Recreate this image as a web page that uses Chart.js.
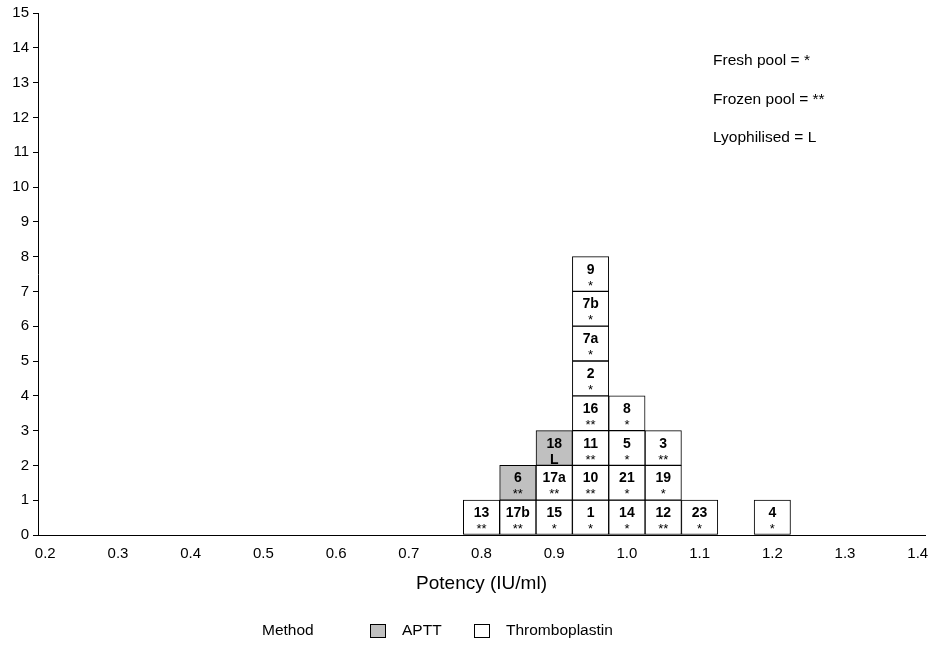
<!DOCTYPE html>
<html>
<head>
<meta charset="utf-8">
<script src="https://cdn.jsdelivr.net/npm/chart.js@4"></script>
<style>
  html, body { margin: 0; padding: 0; background: #fff; }
  #wrap { width: 933px; height: 645px; }
</style>
</head>
<body>
<div id="wrap"><canvas id="potencyChart" width="933" height="645"></canvas></div>
<script>
// one entry per lab result, stacked in order within each potency bin
const potency = [0.80, 0.85, 0.85, 0.90, 0.90, 0.90,
  0.95, 0.95, 0.95, 0.95, 0.95, 0.95, 0.95, 0.95,
  1.00, 1.00, 1.00, 1.00, 1.05, 1.05, 1.05, 1.10, 1.20];
const labIds = ['13', '17b', '6', '15', '17a', '18',
  '1', '10', '11', '16', '2', '7a', '7b', '9',
  '14', '21', '5', '8', '12', '19', '3', '23', '4'];
const pools = ['**', '**', '**', '*', '**', 'L',
  '*', '**', '**', '**', '*', '*', '*', '*',
  '*', '*', '*', '*', '**', '*', '**', '*', '*'];
const methods = ['Thromboplastin', 'Thromboplastin', 'APTT', 'Thromboplastin', 'Thromboplastin', 'APTT',
  'Thromboplastin', 'Thromboplastin', 'Thromboplastin', 'Thromboplastin', 'Thromboplastin', 'Thromboplastin', 'Thromboplastin', 'Thromboplastin',
  'Thromboplastin', 'Thromboplastin', 'Thromboplastin', 'Thromboplastin', 'Thromboplastin', 'Thromboplastin', 'Thromboplastin', 'Thromboplastin', 'Thromboplastin'];
const methodNames = ['APTT', 'Thromboplastin'];
const methodColors = ['#c0c0c0', '#ffffff'];
const xTicks = [0.2, 0.3, 0.4, 0.5, 0.6, 0.7, 0.8, 0.9, 1.0, 1.1, 1.2, 1.3, 1.4];
const poolKey = ['Fresh pool = *', 'Frozen pool = **', 'Lyophilised = L'];

const FONT = "'Liberation Sans', Arial, sans-serif";

// stack boxes: count how many already sit in each bin
const counts = {};
const points = methodNames.map(() => []);
for (let i = 0; i < potency.length; i++) {
  const key = potency[i].toFixed(2);
  const lvl = counts[key] || 0;
  counts[key] = lvl + 1;
  points[methodNames.indexOf(methods[i])].push({ x: potency[i], y: [lvl, lvl + 1], id: labIds[i], pool: pools[i] });
}

const boxLabels = {
  id: 'boxLabels',
  afterDatasetsDraw(chart) {
    const ctx = chart.ctx;
    ctx.save();
    ctx.fillStyle = '#000';
    ctx.textAlign = 'center';
    ctx.textBaseline = 'alphabetic';
    chart.data.datasets.forEach((ds, di) => {
      chart.getDatasetMeta(di).data.forEach((bar, i) => {
        const p = ds.data[i];
        const top = Math.min(bar.y, bar.base);
        ctx.font = 'bold 14px ' + FONT;
        ctx.fillText(p.id, bar.x, top + 17);
        if (p.pool === 'L') {
          ctx.fillText('L', bar.x, top + 33);
        } else {
          ctx.font = '13px ' + FONT;
          ctx.fillText(p.pool, bar.x, top + 33);
        }
      });
    });

    // pool key, top right
    ctx.textAlign = 'left';
    ctx.font = '15.5px ' + FONT;
    poolKey.forEach((t, k) => ctx.fillText(t, 713, 65 + k * 38.5));

    // method legend along the bottom
    const y = 631;
    ctx.textBaseline = 'middle';
    ctx.fillText('Method', 262, y);
    const boxX = [370, 474];
    methodNames.forEach((name, k) => {
      ctx.fillStyle = methodColors[k];
      ctx.fillRect(boxX[k] + 0.5, y - 6.5, 15, 13);
      ctx.strokeStyle = '#000';
      ctx.lineWidth = 1;
      ctx.strokeRect(boxX[k] + 0.5, y - 6.5, 15, 13);
      ctx.fillStyle = '#000';
      ctx.fillText(name, boxX[k] + 32, y);
    });
    ctx.restore();
  }
};

new Chart(document.getElementById('potencyChart'), {
  type: 'bar',
  data: {
    datasets: methodNames.map((name, k) => ({
      label: name,
      data: points[k],
      backgroundColor: methodColors[k],
      borderColor: '#000',
      borderWidth: 1,
      borderSkipped: false,
      grouped: false,
      barPercentage: 1,
      categoryPercentage: 1
    }))
  },
  options: {
    responsive: false,
    animation: false,
    events: [],
    layout: { padding: { top: 13, right: 8, left: 0, bottom: 0 } },
    plugins: { legend: { display: false }, tooltip: { enabled: false } },
    scales: {
      x: {
        type: 'linear',
        offset: false,
        min: 0.19,
        max: 1.41,
        afterBuildTicks(scale) { scale.ticks = xTicks.map(v => ({ value: v })); },
        afterFit(scale) { scale.height = 110; scale.paddingLeft = 0; scale.paddingRight = 0; },
        grid: { display: false, drawTicks: false },
        border: { color: '#000', width: 1 },
        ticks: {
          color: '#000',
          font: { family: FONT, size: 15 },
          padding: 10,
          maxRotation: 0,
          autoSkip: false,
          callback: v => Number(v).toFixed(1)
        },
        title: {
          display: true,
          text: 'Potency (IU/ml)',
          color: '#000',
          font: { family: FONT, size: 19 },
          padding: { top: 0, bottom: 50 }
        }
      },
      y: {
        min: 0,
        max: 15,
        afterFit(scale) { scale.width = 38; scale.paddingTop = 0; scale.paddingBottom = 0; },
        grid: { drawOnChartArea: false, tickLength: 5, color: '#000' },
        border: { color: '#000', width: 1 },
        ticks: {
          stepSize: 1,
          color: '#000',
          font: { family: FONT, size: 15 },
          padding: 4
        }
      }
    }
  },
  plugins: [boxLabels]
});
</script>
</body>
</html>
